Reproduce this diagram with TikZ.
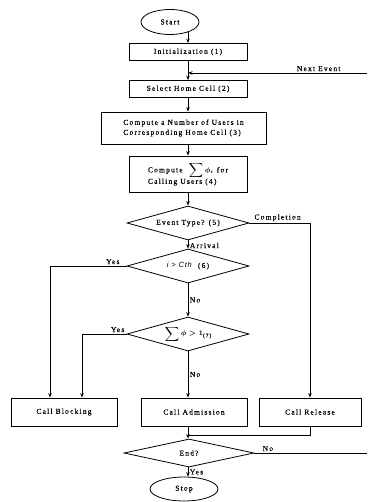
\documentclass[tikz,border=0pt]{standalone}
\usepackage{fontspec}
\setmainfont{Liberation Serif}[LetterSpace=16, FakeBold=0.5]
\newfontfamily\sfit{Liberation Sans Italic}[LetterSpace=10]
\usetikzlibrary{arrows.meta,shapes.geometric}
\begin{document}
\begin{tikzpicture}[x=1pt,y=-1pt,
  line width=0.8pt,
  every node/.style={font=\fontsize{7.5}{10}\selectfont, inner sep=0pt},
  box/.style={draw, rectangle, minimum width=118pt, minimum height=17pt},
  dec/.style={draw, diamond, aspect=3.6, minimum width=122pt, minimum height=34pt},
  term/.style={draw, ellipse, minimum height=25pt},
  lbl/.style={inner sep=1.5pt},
  arr/.style={-{Stealth[length=4.5pt,width=3.5pt]}}]
\useasboundingbox (0,0) rectangle (367,502);
% nodes
\node[term, minimum width=58pt] (start) at (170,22) {Start};
\node[box] (init) at (188,52) {Initialization (1)};
\coordinate (jn) at (188,73);
\coordinate (ne) at (367,73);
\node[box] (sel) at (188,89) {Select Home Cell (2)};
\node[box, minimum width=165pt, minimum height=32pt, align=left] (comp) at (183.5,128)
  {Compute a Number of Users in\\Corresponding Home Cell (3)};
\node[box, minimum height=36pt, align=left] (sum) at (188,174)
  {Compute\ \ {\boldmath$\displaystyle\sum\phi_i$}\ for\\[-1pt]Calling Users (4)};
\node[dec] (ev) at (188,223) {Event Type? (5)};
\node[dec] (cth) at (188,266) {{\sfit i > Cth}\ \ (6)};
\node[dec] (phi) at (188,334) {{\boldmath$\displaystyle\sum\phi>1$}\raisebox{-1.5pt}{\fontsize{5.5}{6}\selectfont(7)}};
\node[box, minimum width=106pt, minimum height=28pt] (blk) at (64,412) {Call Blocking};
\node[box, minimum width=106pt, minimum height=28pt] (adm) at (194,412) {Call Admission};
\node[box, minimum width=102pt, minimum height=28pt] (rel) at (310,412) {Call Release};
\coordinate (jb) at (188,435);
\node[dec, minimum width=130pt, minimum height=28pt] (end) at (189,453) {End?};
\coordinate (ner) at (367,453);
\node[term, minimum width=68pt, minimum height=24pt] (stop) at (184,489) {Stop};
% connectors
\draw[arr] (init.north |- start.-29) -- (init.north);
\draw[arr] (init.south) -- (sel.north);
\draw[arr] (ne) -- (jn) node[pos=0.27, above, lbl] {Next Event};
\draw[arr] (sel.south) -- (sel.south |- comp.north);
\draw[arr] (sum.north |- comp.south) -- (sum.north);
\draw[arr] (sum.south) -- (ev.north);
\draw[arr] (ev.south) -- (cth.north) node[midway, right, lbl, yshift=-1pt] {Arrival};
\draw[arr] (cth.south) -- (phi.north) node[midway, right, lbl] {No};
\draw[arr] (phi.south) -- (phi.south |- adm.north) node[midway, right, lbl] {No};
\draw[arr] (ev.east) -- (ev.east -| rel.north) node[pos=0.02, above right, lbl, xshift=2pt] {Completion} -- (rel.north);
\draw[arr] (cth.west) -- (cth.west -| 50,0) node[pos=0.18, above, lbl] {Yes} -- (50,0 |- blk.north);
\draw[arr] (phi.west) -- (phi.west -| 82,0) node[pos=0.2, above, lbl] {Yes} -- (82,0 |- blk.north);
\draw (rel.south) -- (rel.south |- jb) -- (jb);
\draw[arr] (phi.south |- adm.south) -- (phi.south |- end.north);
\draw (end.east) -- (ner) node[pos=0.12, above, lbl] {No};
\draw[arr] (phi.south |- end.south) -- (phi.south |- stop.north) node[midway, right, lbl] {Yes};
\end{tikzpicture}
\end{document}
